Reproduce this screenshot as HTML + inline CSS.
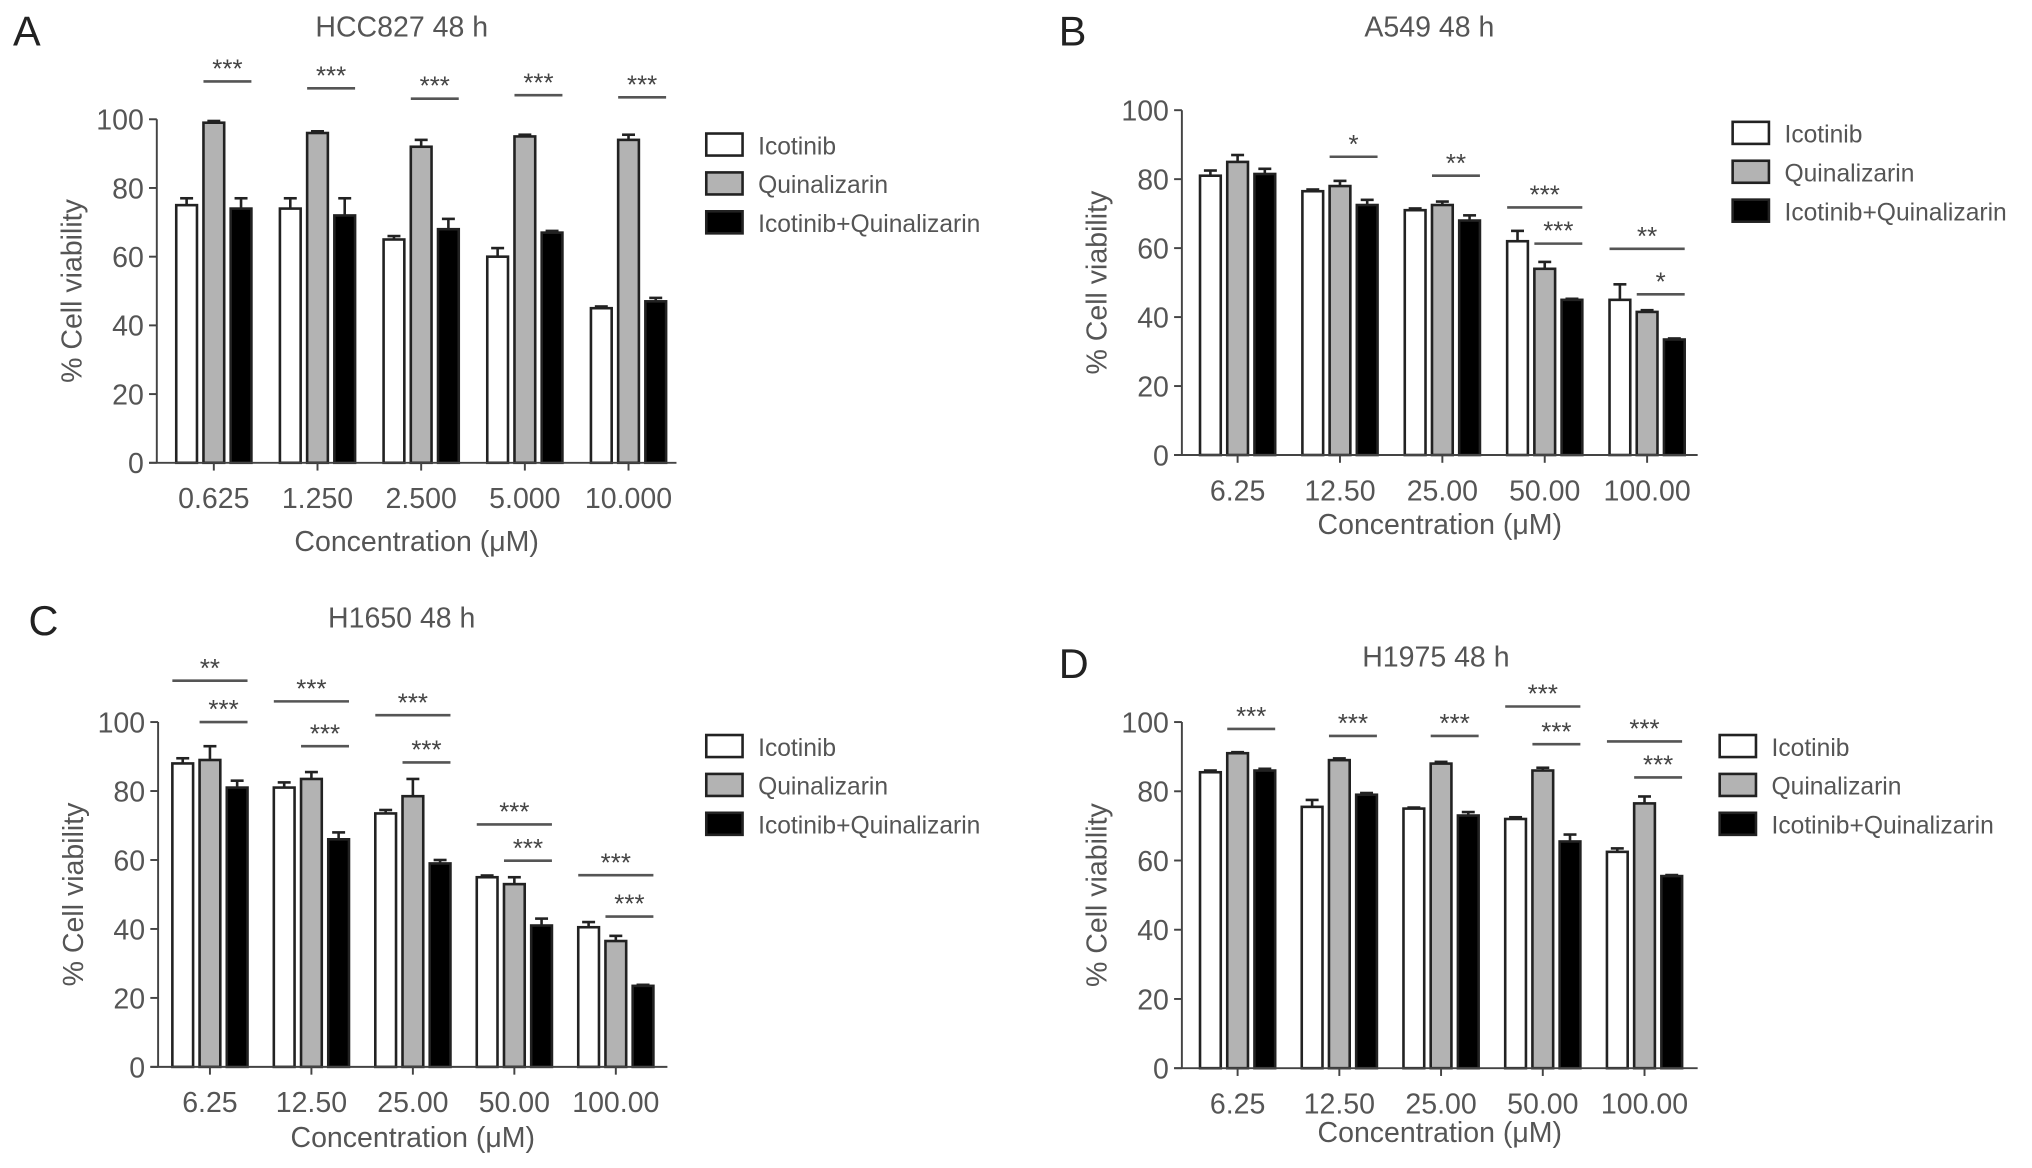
<!DOCTYPE html>
<html><head><meta charset="utf-8"><style>
html,body{margin:0;padding:0;background:#fff;}
svg{display:block;}
text{font-family:"Liberation Sans",sans-serif;fill:#555;}
</style></head><body>
<svg id="fig" width="2032" height="1168" viewBox="0 0 1568 901" preserveAspectRatio="none" xmlns="http://www.w3.org/2000/svg"></svg>
<script>
const categoriesA = ["0.625","1.250","2.500","5.000","10.000"];
const categoriesBCD = ["6.25","12.50","25.00","50.00","100.00"];
const yTicks = [0,20,40,60,80,100];
const seriesNames = ["Icotinib","Quinalizarin","Icotinib+Quinalizarin"];

const icoA=[75,74,65,60,45], icoAErr=[2,3,1,2.5,0.5];
const quinA=[99,96,92,95,94], quinAErr=[0.5,0.5,2,0.5,1.5];
const comboA=[74,72,68,67,47], comboAErr=[3,5,3,0.5,1];
const sigA=[[0,1,2,111,"***"],[1,1,2,109,"***"],[2,1,2,106,"***"],[3,1,2,107,"***"],[4,1,2,106.4,"***"]];

const icoB=[81,76.5,71,62,45], icoBErr=[1.5,0.5,0.5,3,4.5];
const quinB=[85,78,72.5,54,41.5], quinBErr=[2,1.5,1,2,0.5];
const comboB=[81.5,72.5,68,45,33.5], comboBErr=[1.5,1.5,1.5,0.3,0.3];
const sigB=[[1,1,2,86.5,"*"],[2,1,2,81,"**"],[3,0,2,71.8,"***"],[3,1,2,61.3,"***"],[4,0,2,59.8,"**"],[4,1,2,46.6,"*"]];

const icoC=[88,81,73.5,55,40.5], icoCErr=[1.5,1.5,1,0.5,1.5];
const quinC=[89,83.5,78.5,53,36.5], quinCErr=[4,2,5,2,1.5];
const comboC=[81,66,59,41,23.5], comboCErr=[2,2,1,2,0.3];
const sigC=[[0,0,2,112,"**"],[0,1,2,100,"***"],[1,0,2,106,"***"],[1,1,2,93,"***"],[2,0,2,102,"***"],[2,1,2,88.3,"***"],[3,0,2,70.3,"***"],[3,1,2,59.8,"***"],[4,0,2,55.6,"***"],[4,1,2,43.6,"***"]];

const icoD=[85.5,75.5,75,72,62.5], icoDErr=[0.5,2,0.3,0.5,1];
const quinD=[91,89,88,86,76.5], quinDErr=[0.3,0.5,0.5,0.8,2];
const comboD=[86,79,73,65.5,55.5], comboDErr=[0.5,0.5,1,2,0.3];
const sigD=[[0,1,2,98,"***"],[1,1,2,96,"***"],[2,1,2,96,"***"],[3,0,2,104.5,"***"],[3,1,2,93.6,"***"],[4,0,2,94.4,"***"],[4,1,2,84,"***"]];

const svg=document.getElementById('fig');
const NS="http://www.w3.org/2000/svg";
function mk(tag,attrs,parent){const e=document.createElementNS(NS,tag);for(const k in attrs)e.setAttribute(k,attrs[k]);(parent||svg).appendChild(e);return e;}
function txt(s,attrs,parent){const e=mk('text',attrs,parent);e.textContent=s;return e;}
const fills=["#ffffff","#b3b3b3","#000000"];

function panel(cfg){
  const g=mk('g',{});
  
  
  const y=v=>cfg.y0-(cfg.y0-cfg.y100)*v/100;
  const x=(i,s)=>cfg.c0+cfg.step*i+(s-1)*21;
  const l=txt(cfg.letter,{x:cfg.lx,y:cfg.ly,'font-size':32,style:'fill:#222'},g);
  
  
  const t=txt(cfg.title,{x:cfg.tx,y:cfg.ty,'font-size':22,'text-anchor':'middle'},g);
  
  
  const vals=[cfg.ico,cfg.quin,cfg.combo], errs=[cfg.icoE,cfg.quinE,cfg.comboE];
  for(let s=0;s<3;s++)for(let i=0;i<5;i++){
    const xc=x(i,s), top=y(vals[s][i]), et=y(vals[s][i]+errs[s][i]);
    mk('line',{x1:xc,x2:xc,y1:top,y2:et,stroke:'#222','stroke-width':2},g);
    mk('line',{x1:xc-5,x2:xc+5,y1:et,y2:et,stroke:'#222','stroke-width':2},g);
    const r=mk('rect',{x:xc-8,y:top,width:16,height:cfg.y0-top,fill:fills[s],stroke:'#222','stroke-width':2},g);
    
    
  }
  const ax=mk('line',{x1:cfg.ax,x2:cfg.ax,y1:cfg.y0,y2:cfg.y100,stroke:'#444','stroke-width':1.5},g);
  
  
  const xa=mk('line',{x1:cfg.ax-6,x2:cfg.axEnd,y1:cfg.y0,y2:cfg.y0,stroke:'#444','stroke-width':1.5},g);
  
  
  yTicks.forEach(v=>{
    mk('line',{x1:cfg.ax-6,x2:cfg.ax,y1:y(v),y2:y(v),stroke:'#444','stroke-width':1.5},g);
    const tl=txt(String(v),{x:cfg.ax-10,y:y(v)+8,'font-size':22,'text-anchor':'end'},g);
    
    
  });
  cfg.cats.forEach((c,i)=>{
    const xc=x(i,1);
    mk('line',{x1:xc,x2:xc,y1:cfg.y0,y2:cfg.y0+6,stroke:'#444','stroke-width':1.5},g);
    const tl=txt(c,{x:xc,y:cfg.y0+35,'font-size':22,'text-anchor':'middle'},g);
    
    
  });
  const xt=txt('Concentration (\u03bcM)',{x:(cfg.ax+cfg.axEnd)/2,y:cfg.xty,'font-size':22,'text-anchor':'middle'},g);
  
  
  const ym=(cfg.y0+cfg.y100)/2;
  const yt=txt('% Cell viability',{x:cfg.ax-58,y:ym,'font-size':22,'text-anchor':'middle',transform:`rotate(-90 ${cfg.ax-58} ${ym})`},g);
  
  
  cfg.sig.forEach(sg=>{
    const [i,a,b,v,st]=sg;
    const x1=x(i,a)-8,x2=x(i,b)+8,yy=y(v);
    const ln=mk('line',{x1:x1,x2:x2,y1:yy,y2:yy,stroke:'#555','stroke-width':2},g);
    
    
    const s=txt(st,{x:(x1+x2)/2,y:yy-3,'font-size':20,'text-anchor':'middle',style:'fill:#444'},g);
    
    
  });
  seriesNames.forEach((n,k)=>{
    const ly=cfg.legY+k*30;
    const r=mk('rect',{x:cfg.legX,y:ly-9,width:28,height:17,fill:fills[k],stroke:'#222','stroke-width':2},g);
    
    
    const lt=txt(n,{x:cfg.legX+40,y:ly+7,'font-size':19},g);
    
    
  });
}

panel({letter:'A',lx:10,ly:35,title:'HCC827 48 h',tx:310,ty:28,ax:121,axEnd:522,y0:357,y100:92,c0:165,step:80,cats:categoriesA,
  ico:icoA,icoE:icoAErr,quin:quinA,quinE:quinAErr,combo:comboA,comboE:comboAErr,sig:sigA,xty:425,legX:545,legY:112});
panel({letter:'B',lx:817,ly:35,title:'A549 48 h',tx:1103,ty:28,ax:912,axEnd:1310,y0:351,y100:85,c0:955,step:79,cats:categoriesBCD,
  ico:icoB,icoE:icoBErr,quin:quinB,quinE:quinBErr,combo:comboB,comboE:comboBErr,sig:sigB,xty:412,legX:1337,legY:103});
panel({letter:'C',lx:22,ly:490,title:'H1650 48 h',tx:310,ty:484,ax:122,axEnd:515,y0:823,y100:557,c0:162,step:78.3,cats:categoriesBCD,
  ico:icoC,icoE:icoCErr,quin:quinC,quinE:quinCErr,combo:comboC,comboE:comboCErr,sig:sigC,xty:885,legX:545,legY:576});
panel({letter:'D',lx:817,ly:523,title:'H1975 48 h',tx:1108,ty:514,ax:912,axEnd:1310,y0:824,y100:557,c0:955,step:78.5,cats:categoriesBCD,
  ico:icoD,icoE:icoDErr,quin:quinD,quinE:quinDErr,combo:comboD,comboE:comboDErr,sig:sigD,xty:881,legX:1327,legY:576});
</script>
</body></html>
